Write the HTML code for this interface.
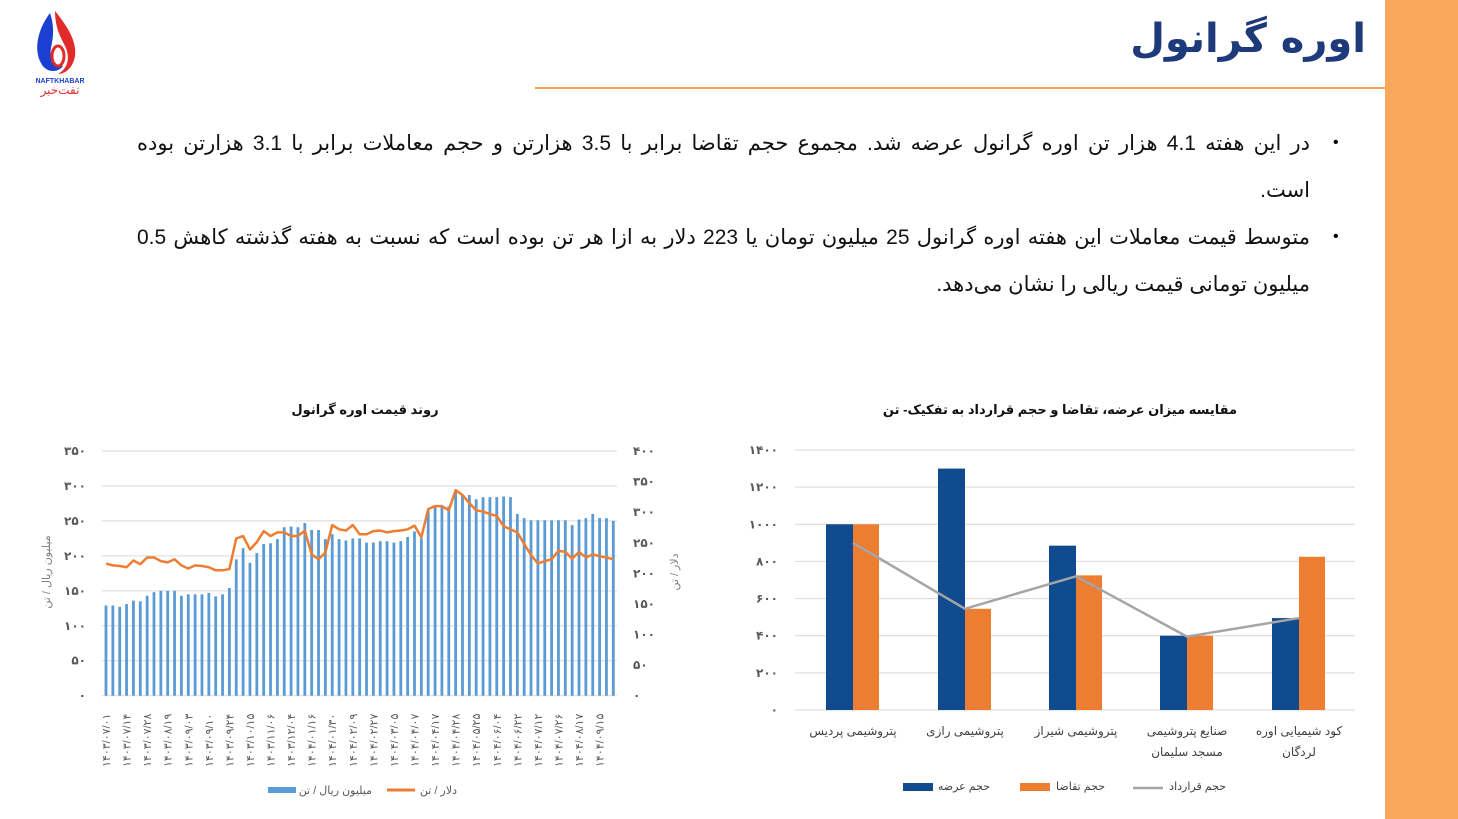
<!DOCTYPE html>
<html><head><meta charset="utf-8">
<style>
body{margin:0;width:1458px;height:819px;background:#fff;position:relative;overflow:hidden;font-family:"Liberation Sans","DejaVu Sans",sans-serif;}
.side{position:absolute;left:1385px;top:0;width:73px;height:819px;background:#F9A85C;}
.hr{position:absolute;left:535px;top:87px;width:850px;height:2px;background:#F5A04E;}
.title{position:absolute;right:92px;top:16px;font-size:40px;font-weight:bold;color:#1F3A7A;direction:rtl;font-family:"DejaVu Sans",sans-serif;}
.ln{position:absolute;left:137px;width:1173px;direction:rtl;font-size:21px;color:#111;white-space:nowrap;}
.j{text-align:justify;text-align-last:justify;}
.bul{position:absolute;left:1333px;font-size:16px;}
svg text{font-family:"Liberation Sans","DejaVu Sans",sans-serif;}
</style></head><body>
<div class="side"></div>
<div class="hr"></div>
<div class="title">اوره گرانول</div>
<svg style="position:absolute;left:25px;top:8px" width="70" height="90">
<path d="M25 5 C10 25 10 45 16 55 C20 64 32 66 38 58 C30 58 24 50 26 40 C28 30 30 20 25 5Z" fill="#1B3FD0"/>
<path d="M30 3 C44 20 52 35 50 48 C48 60 40 66 33 66 C44 60 45 48 40 38 C36 30 30 20 30 3Z" fill="#E32A2A"/>
<ellipse cx="33" cy="48" rx="6" ry="10" fill="none" stroke="#E32A2A" stroke-width="3"/>
<text x="35" y="75" font-size="7" font-weight="bold" fill="#1B3FD0" text-anchor="middle">NAFTKHABAR</text>
<text x="35" y="86" font-size="12" fill="#E32A2A" text-anchor="middle">نفت‌خبر</text>
</svg>
<div class="bul" style="top:134px">•</div>
<div class="ln j" style="top:131px">در این هفته 4.1 هزار تن اوره گرانول عرضه شد. مجموع حجم تقاضا برابر با 3.5 هزارتن و حجم معاملات برابر با 3.1 هزارتن بوده</div>
<div class="ln" style="top:178px">است.</div>
<div class="bul" style="top:228px">•</div>
<div class="ln j" style="top:225px">متوسط قیمت معاملات این هفته اوره گرانول 25 میلیون تومان یا 223 دلار به ازا هر تن بوده است که نسبت به هفته گذشته کاهش 0.5</div>
<div class="ln" style="top:272px">میلیون تومانی قیمت ریالی را نشان می‌دهد.</div>
<svg id="c" width="1458" height="819" style="position:absolute;left:0;top:0"></svg>
<script>
const fa=s=>String(s).replace(/\d/g,d=>'۰۱۲۳۴۵۶۷۸۹'[d]);
let h='';
const L0=695.7,k1=0.6991,k2=0.6117;
for(let i=0;i<=7;i++){const y=L0-i*50*k1;h+=`<line x1="102" x2="617" y1="${y}" y2="${y}" stroke="#d9d9d9" stroke-width="1"/>`;
h+=`<text x="86" y="${y+4}" font-size="12" font-weight="bold" fill="#595959" text-anchor="end">${fa(i*50)}</text>`;}
for(let i=0;i<=8;i++){const y=L0-i*50*k2;h+=`<text x="633" y="${y+4}" font-size="12" font-weight="bold" fill="#595959">${fa(i*50)}</text>`;}
const B=[129,129,127,131,136,135,143,148,150,150,150,143,145,145,145,147,142,145,154,195,211,190,204,217,218,224,241,242,241,247,237,237,224,231,224,222,225,225,219,219,221,221,219,221,227,235,225,265,271,271,271,291,287,287,281,284,284,284,285,284,260,254,251,251,251,251,251,251,244,252,254,260,254,254,250];
const D=[216,213,212,210,221,215,226,226,220,218,223,213,208,213,212,210,205,205,207,257,261,239,251,269,261,267,267,261,261,270,231,223,234,279,272,270,279,264,264,269,270,267,269,270,272,278,259,305,310,310,303,336,328,315,303,301,297,294,277,272,267,248,230,216,220,223,237,235,224,235,226,231,228,226,223];
const sp=(613.3-106)/74;let pts=[];
B.forEach((v,i)=>{const x=106+i*sp;h+=`<rect x="${x-1.4}" y="${L0-v*k1}" width="2.8" height="${v*k1}" fill="#5B9BD5"/>`;pts.push(`${x},${L0-D[i]*k2}`);});
h+=`<polyline points="${pts.join(' ')}" fill="none" stroke="#ED7D31" stroke-width="2.5" stroke-linejoin="round"/>`;
const dates=['1403/07/01','1403/07/14','1403/07/28','1403/08/19','1403/09/03','1403/09/10','1403/09/24','1403/10/15','1403/11/06','1403/12/04','1404/01/16','1404/01/30','1404/02/09','1404/02/27','1404/03/05','1404/04/07','1404/04/17','1404/04/28','1404/05/25','1404/06/04','1404/06/22','1404/07/12','1404/07/26','1404/08/17','1404/09/15'];
dates.forEach((d,j)=>{const x=106+j*3*sp+4;h+=`<text transform="translate(${x},767) rotate(-90)" font-size="11" fill="#595959">${fa(d)}</text>`;});
h+=`<text transform="translate(50,572) rotate(-90)" font-size="11" fill="#7f7f7f" text-anchor="middle">میلیون ریال / تن</text>`;
h+=`<text transform="translate(678,572) rotate(-90)" font-size="11" fill="#7f7f7f" text-anchor="middle">دلار / تن</text>`;
h+=`<text x="365" y="414" font-size="13" font-weight="bold" text-anchor="middle" fill="#111">روند قیمت اوره گرانول</text>`;
h+=`<rect x="268" y="787" width="28" height="6" fill="#5B9BD5"/><text x="372" y="794" font-size="11" fill="#595959" text-anchor="end">میلیون ریال / تن</text>`;
h+=`<line x1="387" x2="415" y1="790" y2="790" stroke="#ED7D31" stroke-width="3"/><text x="457" y="794" font-size="11" fill="#595959" text-anchor="end">دلار / تن</text>`;
const R0=710,kr=260/1400;
for(let i=0;i<=7;i++){const y=R0-i*200*kr;h+=`<line x1="795" x2="1355" y1="${y}" y2="${y}" stroke="#d9d9d9"/>`;
h+=`<text x="778" y="${y+4}" font-size="12" font-weight="bold" fill="#595959" text-anchor="end">${fa(i*200)}</text>`;}
const S=[1000,1300,885,400,495],Q=[1000,545,725,400,825],C=[900,545,720,395,495];
const cx=[853,965,1076,1187,1299];let cp=[];
cx.forEach((c,i)=>{h+=`<rect x="${c-27}" y="${R0-S[i]*kr}" width="27" height="${S[i]*kr}" fill="#114B8F"/>`;
h+=`<rect x="${c}" y="${R0-Q[i]*kr}" width="26" height="${Q[i]*kr}" fill="#ED7D31"/>`;cp.push(`${c},${R0-C[i]*kr}`);});
h+=`<polyline points="${cp.join(' ')}" fill="none" stroke="#A5A5A5" stroke-width="2.5"/>`;
const cat=[['پتروشیمی پردیس'],['پتروشیمی رازی'],['پتروشیمی شیراز'],['صنایع پتروشیمی','مسجد سلیمان'],['کود شیمیایی اوره','لردگان']];
cat.forEach((a,i)=>a.forEach((t,j)=>{h+=`<text x="${cx[i]}" y="${735+j*21}" font-size="12" fill="#404040" text-anchor="middle">${t}</text>`;}));
h+=`<text x="1060" y="414" font-size="13" font-weight="bold" text-anchor="middle" fill="#111">مقایسه میزان عرضه، تقاضا و حجم قرارداد به تفکیک-  تن</text>`;
h+=`<rect x="903" y="783" width="30" height="8" fill="#114B8F"/><text x="990" y="790" font-size="11" fill="#404040" text-anchor="end">حجم عرضه</text>`;
h+=`<rect x="1020" y="783" width="30" height="8" fill="#ED7D31"/><text x="1105" y="790" font-size="11" fill="#404040" text-anchor="end">حجم تقاضا</text>`;
h+=`<line x1="1133" x2="1163" y1="788" y2="788" stroke="#A5A5A5" stroke-width="2.5"/><text x="1226" y="790" font-size="11" fill="#404040" text-anchor="end">حجم قرارداد</text>`;
document.getElementById('c').innerHTML=h;
</script>
</body></html>
